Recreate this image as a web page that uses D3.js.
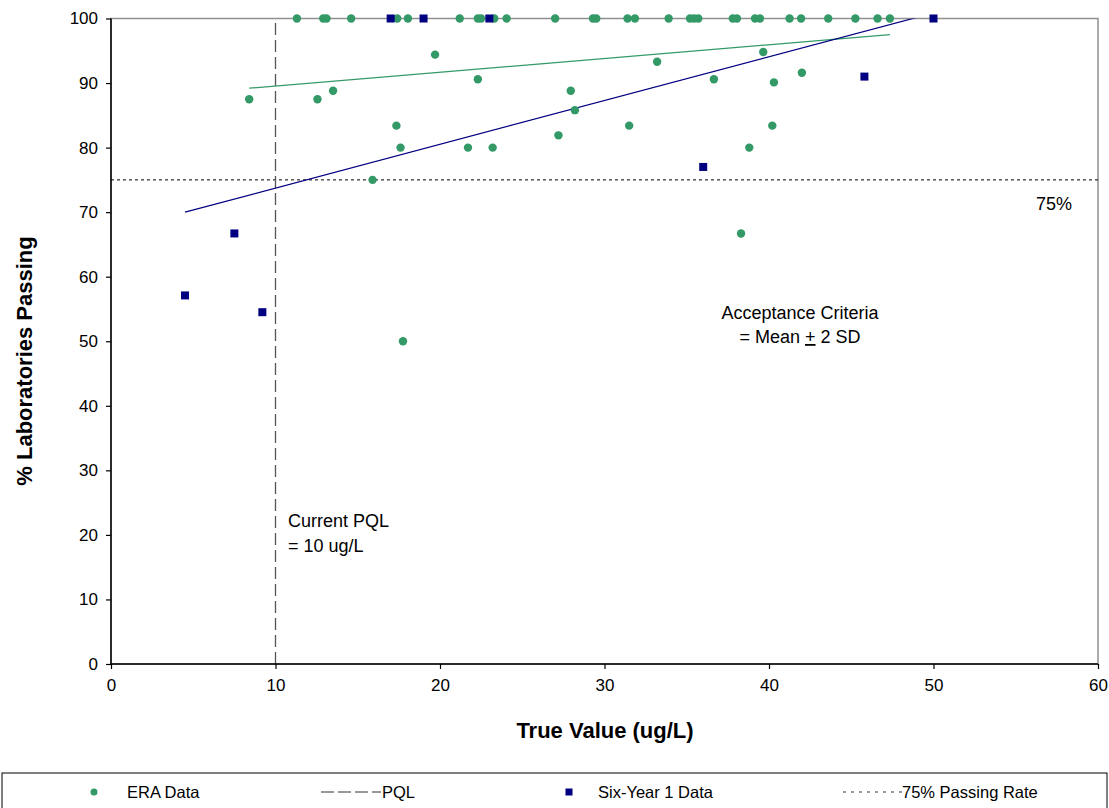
<!DOCTYPE html>
<html>
<head>
<meta charset="utf-8">
<script src="https://cdn.jsdelivr.net/npm/d3@7"></script>
<style>
  html, body { margin: 0; padding: 0; background: #fff; }
  svg { display: block; font-family: Arial, "Liberation Sans", sans-serif; }
</style>
</head>
<body>
<svg id="chart" width="1109" height="808"></svg>
<script>
// ---------- DATA ----------
const eraX = [11.3, 12.9, 13.1, 14.6, 17.4, 18.05, 21.2, 22.3, 22.5, 23.3, 24.05, 27.0, 29.3, 29.5, 31.4, 31.85, 33.9, 35.2, 35.45, 35.7, 37.8, 38.05, 39.15, 39.45, 41.25, 41.95, 43.6, 45.25, 46.6, 47.35,
              8.4, 12.55, 13.5, 19.7, 22.3, 17.35, 17.6, 21.7, 23.2, 15.9, 27.95, 28.2, 27.2, 31.5, 33.2, 36.65, 39.65, 40.3, 42.0, 40.2, 38.8, 17.75, 38.3];
const eraY = [100, 100, 100, 100, 100, 100, 100, 100, 100, 100, 100, 100, 100, 100, 100, 100, 100, 100, 100, 100, 100, 100, 100, 100, 100, 100, 100, 100, 100, 100,
              87.5, 87.5, 88.8, 94.4, 90.6, 83.4, 80.0, 80.0, 80.0, 75.0, 88.8, 85.8, 81.9, 83.4, 93.3, 90.6, 94.8, 90.1, 91.6, 83.4, 80.0, 50.0, 66.7];
const sixX = [4.5, 7.5, 9.2, 17, 19, 23, 36, 45.8, 50];
const sixY = [57.1, 66.7, 54.5, 100, 100, 100, 77, 91, 100];
// linear trendlines (start / end)
const eraTrendX = [8.4, 47.35];
const eraTrendY = [89.2, 97.5];
const sixTrendX = [4.5, 50];
const sixTrendY = [70.0, 100.85];
const xTicks = [0, 10, 20, 30, 40, 50, 60];
const yTicks = [0, 10, 20, 30, 40, 50, 60, 70, 80, 90, 100];
const pqlValue = 10;
const passRate = 75;
const legendLabels = ["ERA Data", "PQL", "Six-Year 1 Data", "75% Passing Rate"];

// ---------- LAYOUT ----------
const svg = d3.select("#chart");
const X0 = 111, X1 = 1098, Y0 = 664, Y1 = 18.5;
const x = d3.scaleLinear().domain([0, 60]).range([X0, X1]);
const y = d3.scaleLinear().domain([0, 100]).range([Y0, Y1]);

const green = "#339966", navy = "#000080";

svg.append("defs").append("clipPath").attr("id", "plotclip")
  .append("rect").attr("x", X0).attr("y", Y1).attr("width", X1 - X0).attr("height", Y0 - Y1);

// plot border (gray top/right)
svg.append("rect").attr("x", X0).attr("y", Y1).attr("width", X1 - X0).attr("height", Y0 - Y1)
  .attr("fill", "none").attr("stroke", "#909090").attr("stroke-width", 1.5);

// 75% line
svg.append("line").attr("x1", X0).attr("x2", X1).attr("y1", y(passRate)).attr("y2", y(passRate))
  .attr("stroke", "#000").attr("stroke-width", 1).attr("stroke-dasharray", "3,3");

// PQL line
svg.append("line").attr("x1", x(pqlValue)).attr("x2", x(pqlValue)).attr("y1", y(0)).attr("y2", y(100))
  .attr("stroke", "#555").attr("stroke-width", 1.3).attr("stroke-dasharray", "12,5");

// trendlines
const line = d3.line().x(d => x(d[0])).y(d => y(d[1]));
const gTrend = svg.append("g").attr("clip-path", "url(#plotclip)");
gTrend.append("path").attr("d", line(eraTrendX.map((v, i) => [v, eraTrendY[i]])))
  .attr("fill", "none").attr("stroke", green).attr("stroke-width", 1.2);
gTrend.append("path").attr("d", line(sixTrendX.map((v, i) => [v, sixTrendY[i]])))
  .attr("fill", "none").attr("stroke", navy).attr("stroke-width", 1.2);

// axes
const xAxis = d3.axisBottom(x).tickValues(xTicks).tickSize(5).tickPadding(10);
const yAxis = d3.axisLeft(y).tickValues(yTicks).tickSize(5).tickPadding(8);
const gx = svg.append("g").attr("transform", `translate(0,${Y0})`).call(xAxis);
const gy = svg.append("g").attr("transform", `translate(${X0},0)`).call(yAxis);
[gx, gy].forEach(g => {
  g.select(".domain").attr("stroke", "#000").attr("stroke-width", 1.5);
  g.selectAll(".tick line").attr("stroke", "#000").attr("stroke-width", 1.2);
  g.selectAll(".tick text").attr("font-size", 17).attr("fill", "#000").attr("font-family", "Arial, 'Liberation Sans', sans-serif");
});
gx.select(".domain").attr("d", `M${X0},0H${X1}`);
gy.select(".domain").attr("d", `M0,${Y0}V${Y1}`);

// points
const era = eraX.map((v, i) => [v, eraY[i]]);
const six = sixX.map((v, i) => [v, sixY[i]]);
svg.append("g").selectAll("circle").data(era).join("circle")
  .attr("cx", d => x(d[0])).attr("cy", d => y(d[1])).attr("r", 4.2).attr("fill", green);
svg.append("g").selectAll("rect").data(six).join("rect")
  .attr("x", d => x(d[0]) - 4).attr("y", d => y(d[1]) - 4).attr("width", 8).attr("height", 8).attr("fill", navy);

// annotations
const ann = svg.append("g").attr("font-size", 18).attr("fill", "#000");
ann.append("text").attr("x", 288).attr("y", 527).text("Current PQL");
ann.append("text").attr("x", 288).attr("y", 552).text("= 10 ug/L");
ann.append("text").attr("x", 800).attr("y", 319).attr("text-anchor", "middle").text("Acceptance Criteria");
const t2 = ann.append("text").attr("x", 800).attr("y", 343).attr("text-anchor", "middle");
t2.append("tspan").text("= Mean ");
t2.append("tspan").attr("text-decoration", "underline").text("+");
t2.append("tspan").text(" 2 SD");
ann.append("text").attr("x", 1054).attr("y", 210).attr("text-anchor", "middle").text("75%");

// axis titles
svg.append("text").attr("x", 605).attr("y", 738).attr("text-anchor", "middle")
  .attr("font-size", 22).attr("font-weight", "bold").text("True Value (ug/L)");
svg.append("text").attr("transform", "translate(32,361) rotate(-90)").attr("text-anchor", "middle")
  .attr("font-size", 22).attr("font-weight", "bold").text("% Laboratories Passing");

// legend
const lg = svg.append("g");
lg.append("rect").attr("x", 2).attr("y", 773).attr("width", 1105).attr("height", 45)
  .attr("fill", "none").attr("stroke", "#000").attr("stroke-width", 1);
const ly = 792;
const lfs = 16.5;
lg.append("circle").attr("cx", 94).attr("cy", ly).attr("r", 3.5).attr("fill", green);
lg.append("text").attr("x", 127).attr("y", ly + 6).attr("font-size", lfs).text(legendLabels[0]);
lg.append("line").attr("x1", 321).attr("x2", 381).attr("y1", ly).attr("y2", ly)
  .attr("stroke", "#333").attr("stroke-width", 1).attr("stroke-dasharray", "13,4");
lg.append("text").attr("x", 382).attr("y", ly + 6).attr("font-size", lfs).text(legendLabels[1]);
lg.append("rect").attr("x", 565.5).attr("y", ly - 3.5).attr("width", 7).attr("height", 7).attr("fill", navy);
lg.append("text").attr("x", 598).attr("y", ly + 6).attr("font-size", lfs).text(legendLabels[2]);
lg.append("line").attr("x1", 843).attr("x2", 902).attr("y1", ly).attr("y2", ly)
  .attr("stroke", "#333").attr("stroke-width", 1).attr("stroke-dasharray", "3,5");
lg.append("text").attr("x", 902).attr("y", ly + 6).attr("font-size", lfs).text(legendLabels[3]);
</script>
</body>
</html>
